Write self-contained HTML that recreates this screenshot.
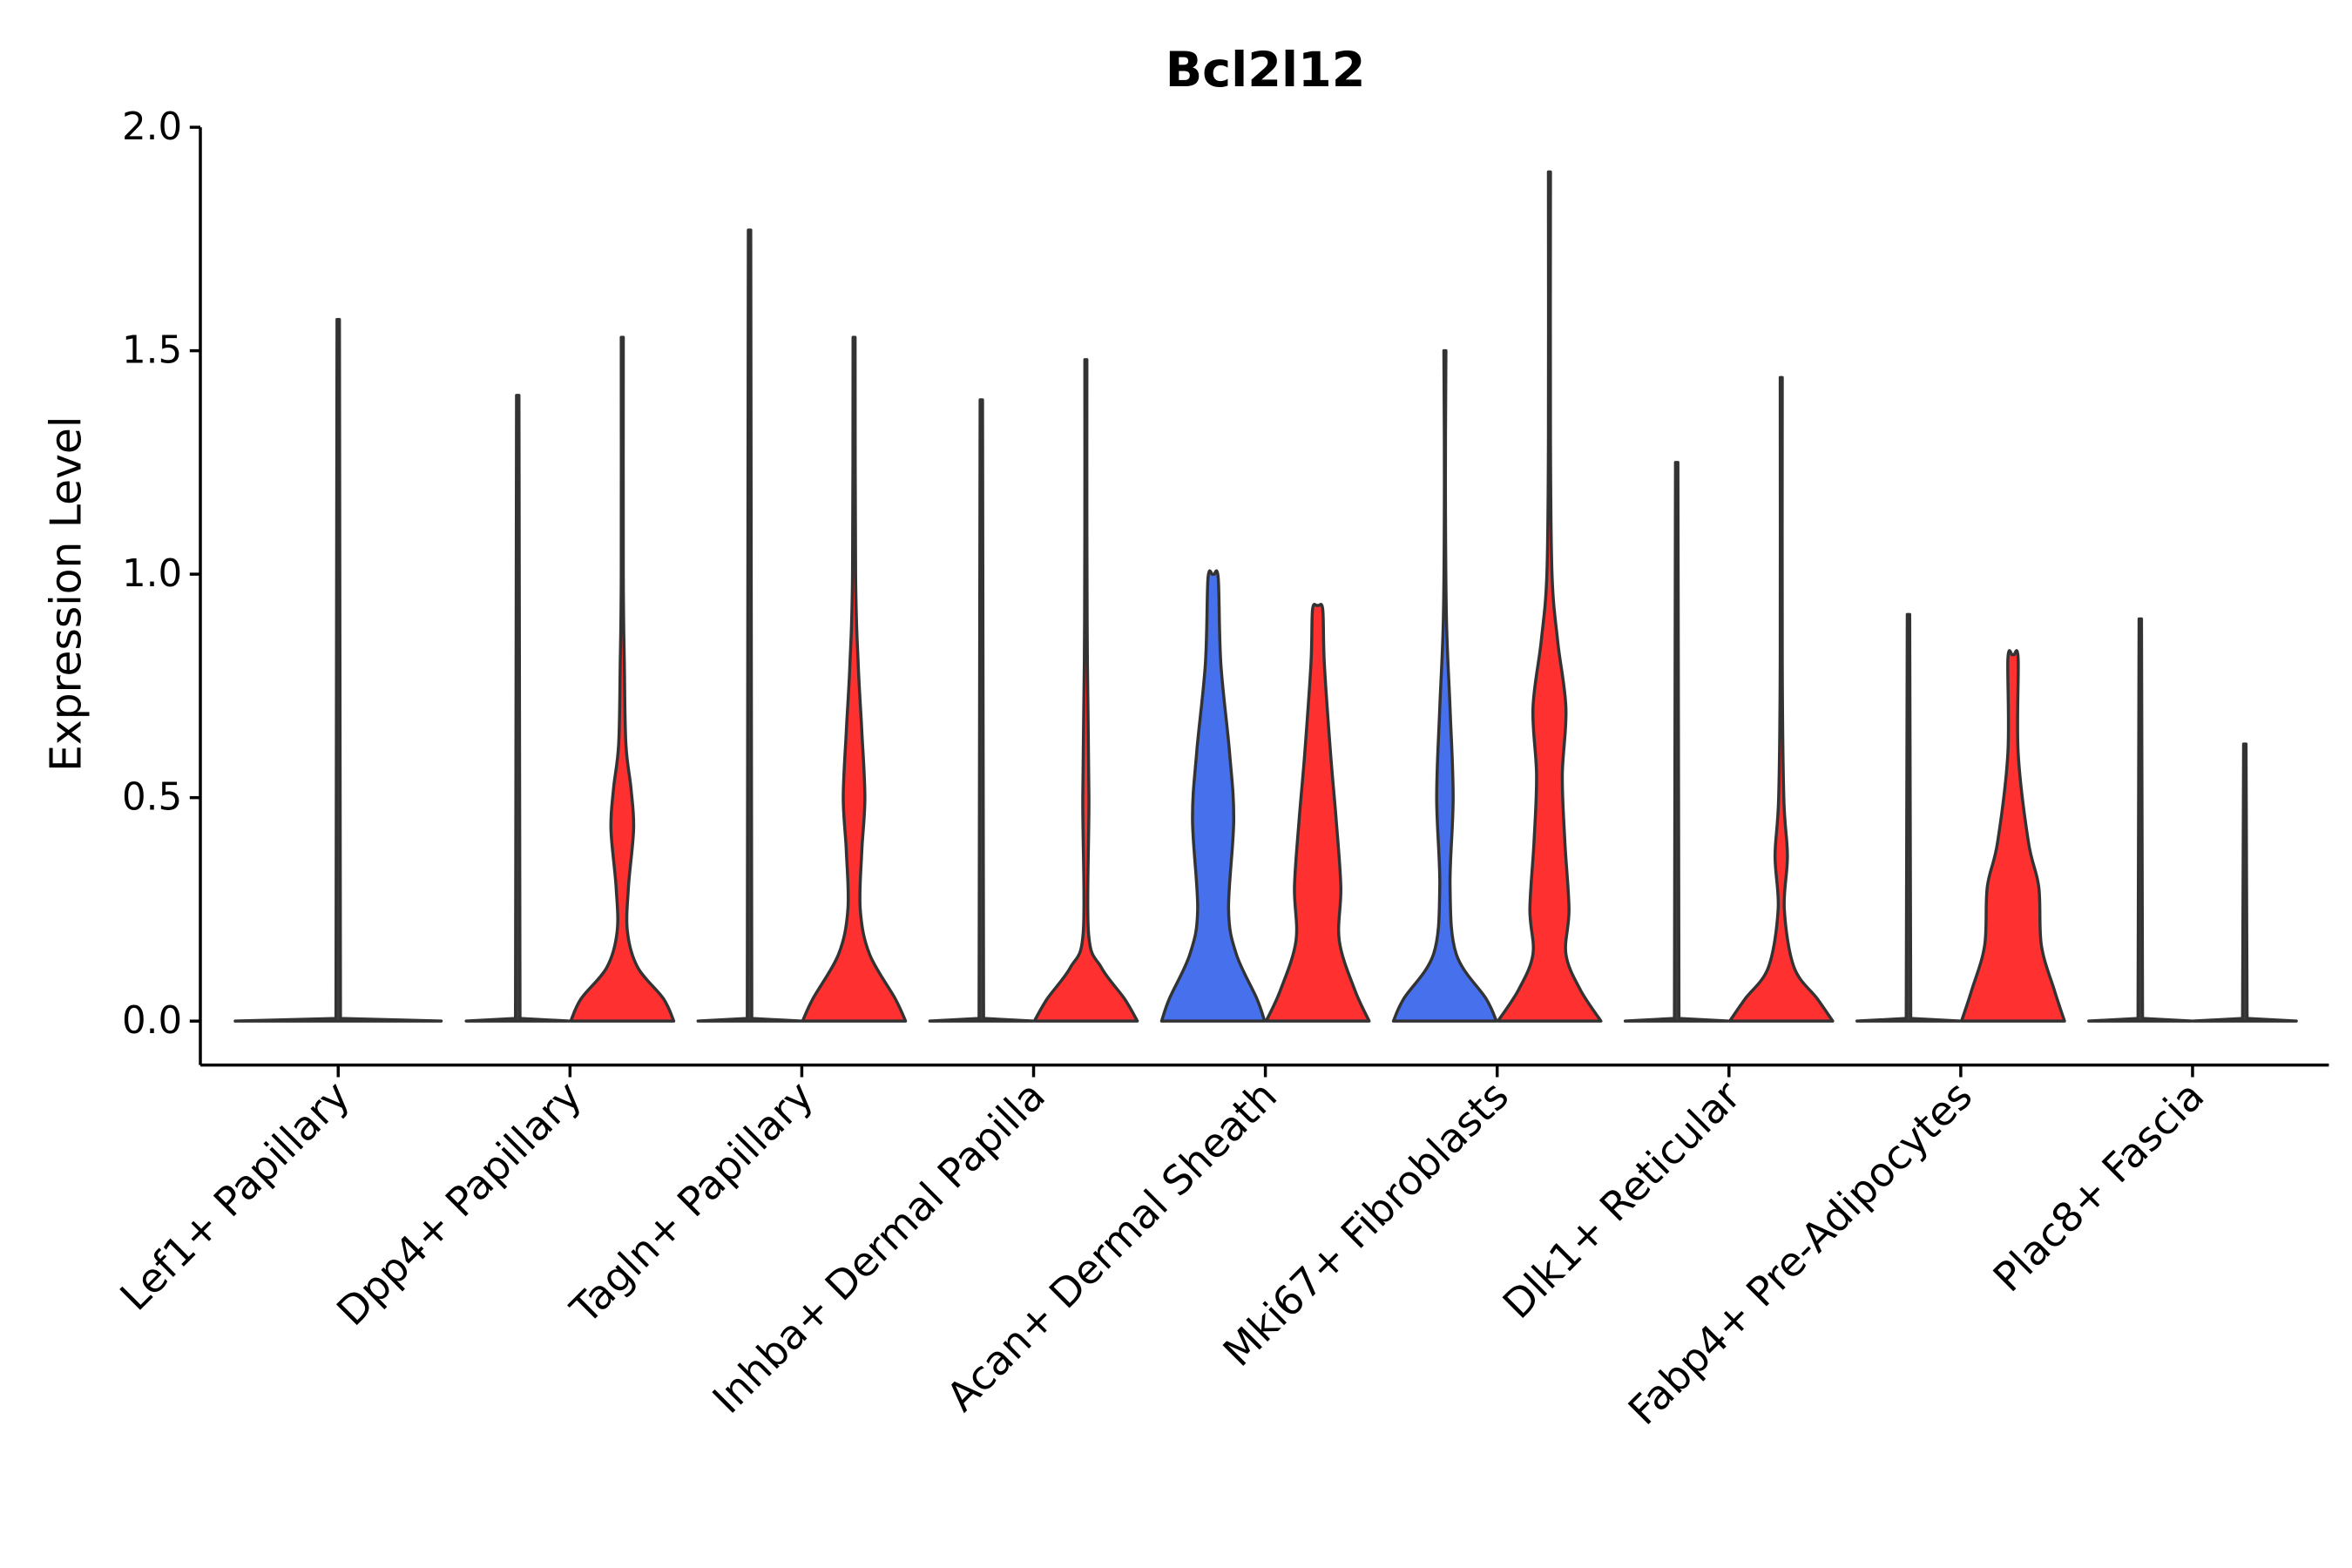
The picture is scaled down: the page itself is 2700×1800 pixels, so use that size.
<!DOCTYPE html>
<html><head><meta charset="utf-8"><style>
html,body{margin:0;padding:0;background:#fff;}
svg{display:block;}
text{font-family:"DejaVu Sans","Liberation Sans",sans-serif;}
</style></head><body>
<svg id="chart" width="2700" height="1800" viewBox="0 0 1552 1035" xmlns="http://www.w3.org/2000/svg">
<text x="835" y="57" text-anchor="middle" font-size="32" font-weight="bold">Bcl2l12</text>
<text transform="translate(53,392) rotate(-90)" text-anchor="middle" font-size="28">Expression Level</text>
<g id="axes"></g>
<g id="violins"></g>
</svg>
<script>
const categories=["Lef1+ Papillary","Dpp4+ Papillary","Tagln+ Papillary","Inhba+ Dermal Papilla","Acan+ Dermal Sheath","Mki67+ Fibroblasts","Dlk1+ Reticular","Fabp4+ Pre-Adipocytes","Plac8+ Fascia"];
const yTicks=[0,0.5,1,1.5,2];
const yTickLabels=["0.0","0.5","1.0","1.5","2.0"];
const violinCats=[0,1,1,2,2,3,3,4,4,5,5,6,6,7,7,8,8];
const violinGroups=[0,-1,1,-1,1,-1,1,-1,1,-1,1,-1,1,-1,1,-1,1];
const violinColors=["#3f3f3f","#3f3f3f","#ff3030","#3f3f3f","#ff3030","#3f3f3f","#ff3030","#4670ec","#ff3030","#4670ec","#ff3030","#3f3f3f","#ff3030","#3f3f3f","#ff3030","#3f3f3f","#3f3f3f"];
const violinMax=[1.57,1.40,1.53,1.77,1.53,1.39,1.48,1.0,0.93,1.5,1.9,1.25,1.44,0.91,0.82,0.9,0.62];
// profiles: [expression value, relative half-width]; null = all-zero (flat) violin
const violinProfiles=[null,null,
 [[0,1],[0.05,0.8],[0.12,0.3],[0.2,0.1],[0.3,0.12],[0.43,0.22],[0.52,0.17],[0.62,0.07],[0.8,0.04],[1,0.02]],
 null,
 [[0,1],[0.05,0.8],[0.15,0.3],[0.25,0.12],[0.38,0.15],[0.5,0.21],[0.65,0.15],[0.8,0.08],[1,0.03]],
 null,
 [[0,1],[0.05,0.75],[0.12,0.3],[0.2,0.05],[0.5,0.06],[0.8,0.03],[1.1,0.02]],
 [[0,1],[0.05,0.85],[0.15,0.45],[0.25,0.3],[0.45,0.4],[0.6,0.32],[0.8,0.15],[0.99,0.1]],
 [[0,1],[0.07,0.72],[0.18,0.42],[0.3,0.45],[0.45,0.36],[0.6,0.25],[0.8,0.13],[0.92,0.1]],
 [[0,1],[0.05,0.8],[0.15,0.22],[0.3,0.1],[0.5,0.16],[0.7,0.1],[0.9,0.03],[1.2,0.01]],
 [[0,1],[0.07,0.6],[0.15,0.32],[0.25,0.38],[0.4,0.3],[0.55,0.25],[0.7,0.32],[0.85,0.16],[1,0.05],[1.3,0.02]],
 null,
 [[0,1],[0.05,0.7],[0.12,0.25],[0.25,0.06],[0.37,0.12],[0.5,0.05],[0.8,0.02]],
 null,
 [[0,1],[0.07,0.8],[0.17,0.55],[0.3,0.5],[0.4,0.3],[0.6,0.1],[0.81,0.1]],
 null,null];
const X0=132,X1=1537,YT=84,YB=703;
function yScale(v){return 674-v*295;}
function xScale(i){return 223+i*153;}
const NS="http://www.w3.org/2000/svg";
function mk(tag,attrs,parent){const e=document.createElementNS(NS,tag);for(const k in attrs)e.setAttribute(k,attrs[k]);parent.appendChild(e);return e;}
const axes=document.getElementById('axes');
const yAxis=mk('line',{x1:X0,y1:YT,x2:X0,y2:YB,stroke:'#000','stroke-width':2},axes);


const xAxis=mk('line',{x1:X0,y1:YB,x2:X1,y2:YB,stroke:'#000','stroke-width':2},axes);


yTicks.forEach((v,i)=>{const y=yScale(v);
 const t=mk('line',{x1:X0-7,y1:y,x2:X0,y2:y,stroke:'#000','stroke-width':2},axes);
 
 
 const l=mk('text',{x:X0-12,y:y+8,'text-anchor':'end','font-size':25},axes);
 
 
 l.textContent=yTickLabels[i];});
categories.forEach((c,i)=>{const x=xScale(i);
 const t=mk('line',{x1:x,y1:YB,x2:x,y2:YB+8,stroke:'#000','stroke-width':2},axes);
 
 
 const l=mk('text',{transform:`translate(${x+9},${YB+22}) rotate(-45)`,'text-anchor':'end','font-size':26.5},axes);
 
 
 l.textContent=c;});
const vg=document.getElementById('violins');
function smooth(pts){let d='';
 for(let i=0;i<pts.length-1;i++){const p0=pts[Math.max(0,i-1)],p1=pts[i],p2=pts[i+1],p3=pts[Math.min(pts.length-1,i+2)];
  const c1=[p1[0]+(p2[0]-p0[0])/6,p1[1]+(p2[1]-p0[1])/6],c2=[p2[0]-(p3[0]-p1[0])/6,p2[1]-(p3[1]-p1[1])/6];
  d+=` C${c1[0]},${c1[1]} ${c2[0]},${c2[1]} ${p2[0]},${p2[1]}`;}
 return d;}
violinCats.forEach((ci,k)=>{const g=violinGroups[k];
 const cx=xScale(ci)+g*34.5;const hw=g===0?68:34;
 const mx=violinMax[k];let d;
 if(violinProfiles[k]===null){
  const y0=yScale(0),y1=yScale(0.006),ym=yScale(mx);
  d=`M${cx-hw},${y0} L${cx+hw},${y0} L${cx+1.5},${y1} L${cx+0.8},${ym} L${cx-0.8},${ym} L${cx-1.5},${y1} Z`;
 } else {
  const prof=violinProfiles[k].concat([[mx,0.02]]);
  const right=prof.map(([v,w])=>[cx+w*hw,yScale(v)]);
  const left=prof.slice().reverse().map(([v,w])=>[cx-w*hw,yScale(v)]);
  d=`M${right[0][0]},${right[0][1]}`+smooth(right)+` L${left[0][0]},${left[0][1]}`+smooth(left)+' Z';
 }
 const p=mk('path',{d:d,fill:violinColors[k],stroke:'#333','stroke-width':2,'stroke-linejoin':'round'},vg);
 
 });
</script>
</body></html>
